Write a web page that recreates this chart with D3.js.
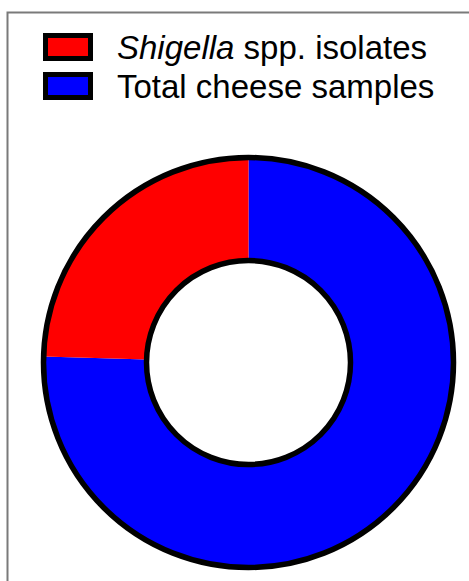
<!DOCTYPE html>
<html>
<head>
<meta charset="utf-8">
<script src="https://cdn.jsdelivr.net/npm/d3@7"></script>
<style>
html, body { margin: 0; padding: 0; background: #fff; }
svg { display: block; }
</style>
</head>
<body>
<div id="container"></div>
<script>
// slices, drawn clockwise from 12 o'clock
const labels = ["Total cheese samples", "Shigella spp. isolates"];
const values = [40, 13];
const colors = ["#0000ff", "#ff0000"];

// legend order (top to bottom)
const legendOrder = [1, 0];

const width = 469, height = 581;
const cx = 248.5, cy = 362.5;
const outerR = 205, innerR = 102;

let svg = d3.select("#container").append("svg")
	.attr("width", width)
	.attr("height", height);

// frame
svg.append("rect")
	.attr("x", 7.5).attr("y", 12.5)
	.attr("width", width + 10).attr("height", height + 10)
	.attr("fill", "none")
	.attr("stroke", "#7a7a7a")
	.attr("stroke-width", 2);

// LEGEND
let legend = svg.append("g").attr("class", "legend");

let item = legend.selectAll("g")
	.data(legendOrder)
	.enter()
	.append("g")
	.attr("transform", (d, i) => `translate(0, ${i * 39})`);

item.append("rect")
	.attr("x", 45.5).attr("y", 35.5)
	.attr("width", 45).attr("height", 23)
	.attr("fill", d => colors[d])
	.attr("stroke", "#000")
	.attr("stroke-width", 5);

let txt = item.append("text")
	.attr("x", 117).attr("y", 59)
	.style("font-family", "Liberation Sans, Arial, sans-serif")
	.style("font-size", "33px")
	.attr("fill", "#000");

txt.each(function(d) {
	let t = d3.select(this);
	if (labels[d].startsWith("Shigella")) {
		t.append("tspan").style("font-style", "italic").text("Shigella");
		t.append("tspan").text(labels[d].slice("Shigella".length));
	} else {
		t.text(labels[d]);
	}
});

// DONUT
let pie = d3.pie().sort(null).value(d => d);
let arc = d3.arc().innerRadius(innerR).outerRadius(outerR);

let g = svg.append("g").attr("transform", `translate(${cx},${cy})`);

g.selectAll("path.slice")
	.data(pie(values))
	.enter()
	.append("path")
	.attr("class", "slice")
	.attr("d", arc)
	.attr("fill", (d, i) => colors[i]);

g.selectAll("circle.edge")
	.data([outerR, innerR])
	.enter()
	.append("circle")
	.attr("class", "edge")
	.attr("r", d => d)
	.attr("fill", "none")
	.attr("stroke", "#000")
	.attr("stroke-width", 5.5);
</script>
</body>
</html>
